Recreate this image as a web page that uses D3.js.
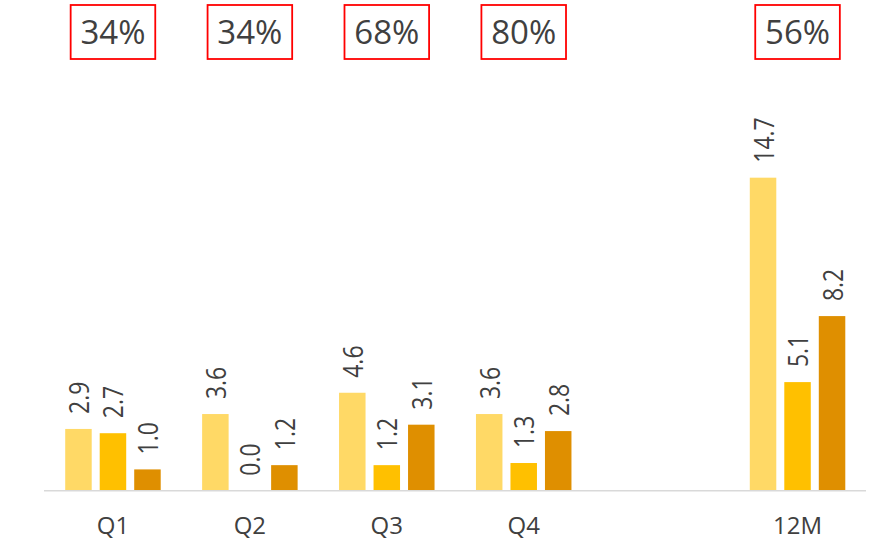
<!DOCTYPE html>
<html>
<head>
<meta charset="utf-8">
<script src="https://cdn.jsdelivr.net/npm/d3@7/dist/d3.min.js"></script>
<style>
  html, body { margin: 0; padding: 0; background: #ffffff; }
  svg { display: block; }
  text { font-family: "Open Sans", "Noto Sans", sans-serif; fill: #404040; }
</style>
</head>
<body>
<script>
// Categories (with an empty slot before the full-year group)
const categories = ["Q1", "Q2", "Q3", "Q4", "12M"];
const slots = ["Q1", "Q2", "Q3", "Q4", "_gap", "12M"];

// Series values per category
const seriesA = [2.9, 3.6, 4.6, 3.6, 14.7];
const seriesB = [2.7, 0.0, 1.2, 1.3, 5.1];
const seriesC = [1.0, 1.2, 3.1, 2.8, 8.2];

// Boxed ratio shown above each group
const ratios = ["34%", "34%", "68%", "80%", "56%"];

const colors = ["#FFD966", "#FFC000", "#DF8F00"];

const W = 886, H = 542;
const svg = d3.select("body").append("svg").attr("width", W).attr("height", H);

const x = d3.scaleBand().domain(slots).range([44.5, 866]).paddingInner(0).paddingOuter(0);
const y = d3.scaleLinear().domain([0, 16]).range([490.7, 150]);

const sub = d3.scaleBand().domain([0, 1, 2]).paddingInner(0.232).paddingOuter(0.116);

const seriesList = [seriesA, seriesB, seriesC];
const rows = [];
categories.forEach((c, i) => {
  seriesList.forEach((s, k) => rows.push({ cat: c, k, v: s[i] }));
});

function subX(d) {
  const c = x(d.cat) + x.bandwidth() / 2;
  sub.range([c - 51.75, c + 51.75]);
  return sub(d.k);
}

// Bars
svg.append("g").selectAll("rect").data(rows).join("rect")
  .attr("x", d => subX(d))
  .attr("width", sub.bandwidth())
  .attr("y", d => y(d.v))
  .attr("height", d => Math.max(0, y(0) - y(d.v)))
  .attr("fill", d => colors[d.k]);

// Baseline axis
const axis = svg.append("g").attr("transform", `translate(0,${y(0)})`)
  .call(d3.axisBottom(x).tickSize(0).tickFormat(""));
axis.select(".domain").attr("stroke", "#D9D9D9").attr("stroke-width", 1.5)
  .attr("d", `M44,0H866`);

// Category labels
svg.append("g").selectAll("text").data(categories).join("text")
  .attr("x", d => x(d) + x.bandwidth() / 2)
  .attr("y", 534)
  .attr("text-anchor", "middle")
  .style("font-size", "24px")
  .text(d => d);

// Rotated value labels
svg.append("g").selectAll("text").data(rows).join("text")
  .attr("transform", d => {
    const cx = subX(d) + sub.bandwidth() / 2 + 10.5;
    const cy = y(d.v) - 15;
    return `translate(${cx},${cy}) rotate(-90) scale(0.82,1)`;
  })
  .attr("text-anchor", "start")
  .style("font-size", "28px")
  .text(d => d.v.toFixed(1));

// Boxed ratios
const boxes = svg.append("g").selectAll("g").data(categories).join("g")
  .attr("transform", d => `translate(${x(d) + x.bandwidth() / 2},0)`);
boxes.append("rect")
  .attr("x", -42.3).attr("y", 5).attr("width", 84.6).attr("height", 54)
  .attr("fill", "none").attr("stroke", "#FF0000").attr("stroke-width", 1.8);
boxes.append("text")
  .attr("x", 0).attr("y", 44)
  .attr("text-anchor", "middle")
  .style("font-size", "33px")
  .text((d, i) => ratios[i]);
</script>
</body>
</html>
